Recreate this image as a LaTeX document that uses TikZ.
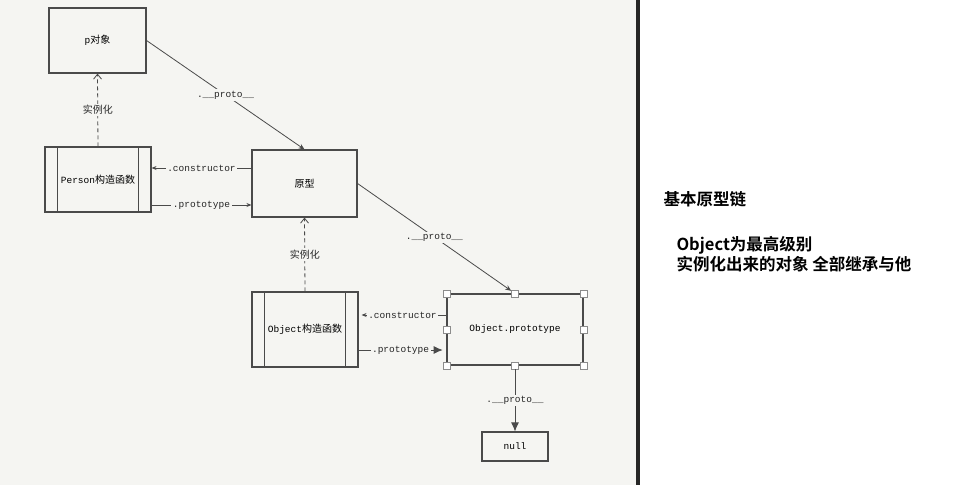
\documentclass[tikz,border=0pt]{standalone}
\usepackage{fontspec}
\setmonofont{Liberation Mono}
\newfontfamily\zhfont{Noto Sans CJK SC}[BoldFont={Noto Sans CJK SC Bold}]
\usetikzlibrary{arrows.meta, positioning}
\definecolor{paper}{HTML}{F5F5F2}
\definecolor{ink}{HTML}{4A4A4A}
\newcommand{\zh}[1]{{\zhfont\fontsize{10}{12}\selectfont #1}}

\tikzset{
  box/.style={draw=ink, line width=1.1pt, rectangle, fill=paper,
    font=\ttfamily\fontsize{9.5}{11}\selectfont},
  ctor/.style={box, minimum width=106},
  lbl/.style={fill=paper, inner sep=1.5pt, text=black!85,
    font=\ttfamily\fontsize{9.5}{11}\selectfont},
  link/.style={draw=ink, line width=0.8pt},
  proto/.style={link, -{Stealth[length=6pt,width=5pt]}},
  inst/.style={link, dash pattern=on 4pt off 3pt, -{Straight Barb[length=5pt,width=8pt]}},
  small/.style={link, -{Stealth[length=5pt,width=4pt]}},
  big/.style={link, -{Latex[length=9pt,width=8pt]}},
  handle/.style={draw=black!45, fill=white, line width=0.6pt, minimum size=7, inner sep=0pt}
}

\begin{document}
\begin{tikzpicture}[x=1pt, y=-1pt]
      \useasboundingbox (0,0) rectangle (954,487);
      \fill[paper] (0,0) rectangle (637,485);
      \fill[black!85] (636,0) rectangle (640,485);
      % boxes
      \node[box, minimum width=97, minimum height=65]
        (P) at (97.5,40.5) {p\zh{对象}};
      \node[ctor, minimum height=65]
        (PC) at (98,179.5) {Person\zh{构造函数}};
      \node[box, minimum width=105, minimum height=67]
        (Y) at (304.5,183.5) {\zh{原型}};
      \node[ctor, minimum height=75]
        (OC) at (305,329.5) {Object\zh{构造函数}};
      \node[box, minimum width=136, minimum height=71]
        (OP) at (515,329.5) {Object.prototype};
      \node[box, minimum width=66, minimum height=29]
        (N) at (515,446.5) {null};
      \draw[ink, line width=1.1pt] ([xshift=13]PC.north west) -- ([xshift=13]PC.south west);
      \draw[ink, line width=1.1pt] ([xshift=-13]PC.north east) -- ([xshift=-13]PC.south east);
      \draw[ink, line width=1.1pt] ([xshift=13]OC.north west) -- ([xshift=13]OC.south west);
      \draw[ink, line width=1.1pt] ([xshift=-13]OC.north east) -- ([xshift=-13]OC.south east);
      % handles
      \foreach \a [count=\i] in {north west, north, north east, east, south east, south, south west, west}
        \node[handle] (h\i) at (OP.\a) {};
      % connectors
      \draw[proto] (P.east) -- node[lbl] {.\_\_proto\_\_} (Y.north);
      \draw[inst] (PC.north) -- node[lbl] {\zh{实例化}} (P.south);
      \draw[small] ([yshift=15.5]Y.west) -- node[lbl] {.constructor} ([yshift=11.5]PC.east);
      \draw[small] ([yshift=-25.5]PC.east) -- node[lbl] {.prototype} ([yshift=-21.5]Y.west);
      \draw[proto] (Y.east) -- node[lbl] {.\_\_proto\_\_} (h2);
      \draw[inst] (OC.north) -- node[lbl] {\zh{实例化}} (Y.south);
      \draw[small, shorten >=3pt] ([yshift=14.5]OP.west) -- node[lbl] {.constructor} ([yshift=14.5]OC.east);
      \draw[big] ([yshift=-20.5]OC.east) -- node[lbl] {.prototype} ([yshift=-20.5]h8.west);
      \draw[big] (h6) -- node[lbl] {.\_\_proto\_\_} (N.north);
      % notes
      \node[anchor=west, font=\zhfont\bfseries\fontsize{16.5}{20}\selectfont]
        (T1) at (660,199) {基本原型链};
      \node[anchor=north west, align=left, font=\zhfont\bfseries\fontsize{16.5}{20}\selectfont]
        (T2) at (673,233) {Object为最高级别\\实例化出来的对象 全部继承与他};
    \end{tikzpicture}
\end{document}
